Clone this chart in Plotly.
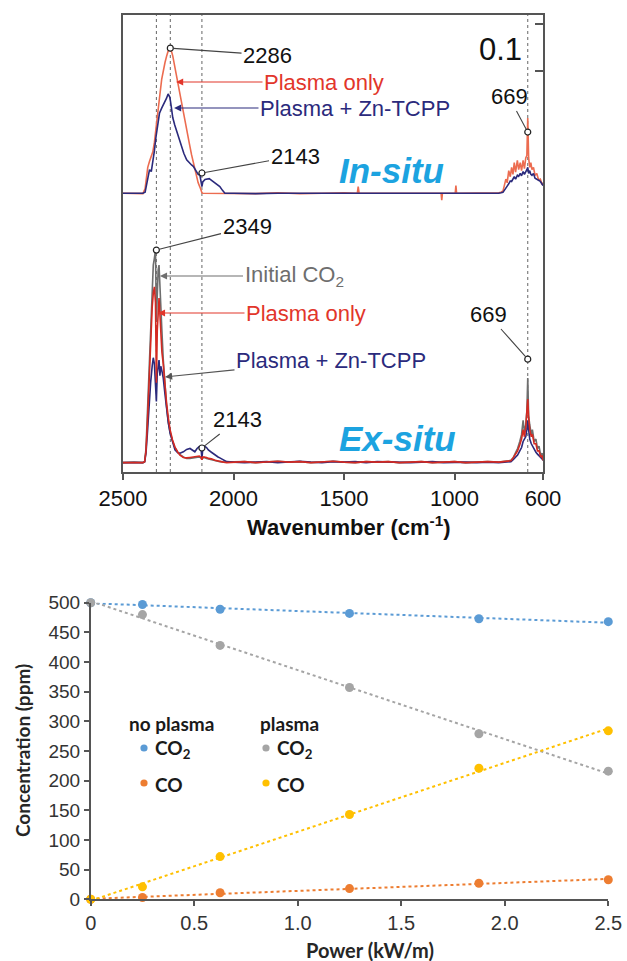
import numpy as np
import plotly.graph_objects as go

W, H = 627, 961

# ---------------- spectra (absorbance) ----------------
IN_WN = [2500, 2450, 2410, 2400, 2395, 2388, 2380, 2372, 2365, 2358,
         2351, 2343, 2335, 2325, 2318, 2310, 2303, 2296, 2288, 2282,
         2275, 2266, 2258, 2250, 2242, 2235, 2225, 2212, 2200, 2190,
         2182, 2170, 2160, 2152, 2147, 2143, 2139, 2129, 2110, 2092,
         2075, 2062, 2050, 2039, 2000, 1900, 1800, 1700, 1600, 1500,
         1440, 1436, 1432, 1300, 1200, 1100, 1061, 1058, 1055, 997,
         994, 991, 900, 850, 800, 790, 781, 775, 768, 762,
         755, 748, 742, 736, 730, 724, 716, 710, 703, 697,
         690, 684, 678, 673, 669, 665, 660, 655, 650, 643,
         636, 628, 620, 612, 605, 600]
IN_PLASMA = [0.020, 0.020, 0.019, 0.030, 0.055, 0.075, 0.088, 0.098, 0.108, 0.128,
             0.160, 0.190, 0.222, 0.262, 0.282, 0.298, 0.311, 0.322, 0.328, 0.324,
             0.312, 0.289, 0.268, 0.248, 0.225, 0.210, 0.188, 0.155, 0.126, 0.102,
             0.086, 0.058, 0.042, 0.033, 0.024, 0.021, 0.020, 0.020, 0.019, 0.020,
             0.020, 0.020, 0.019, 0.020, 0.020, 0.019, 0.021, 0.019, 0.020, 0.021,
             0.020, 0.034, 0.020, 0.020, 0.021, 0.020, 0.020, 0.005, 0.020, 0.020,
             0.036, 0.020, 0.020, 0.021, 0.021, 0.022, 0.025, 0.036, 0.050, 0.042,
             0.068, 0.055, 0.075, 0.060, 0.085, 0.065, 0.090, 0.070, 0.085, 0.068,
             0.090, 0.072, 0.095, 0.100, 0.180, 0.095, 0.075, 0.085, 0.070, 0.075,
             0.058, 0.062, 0.048, 0.050, 0.040, 0.042]
IN_ZN = [0.020, 0.020, 0.020, 0.022, 0.035, 0.058, 0.070, 0.066, 0.084, 0.110,
         0.139, 0.170, 0.190, 0.201, 0.207, 0.214, 0.222, 0.231, 0.224, 0.205,
         0.181, 0.165, 0.153, 0.140, 0.128, 0.119, 0.105, 0.091, 0.084, 0.080,
         0.077, 0.068, 0.060, 0.058, 0.045, 0.034, 0.044, 0.049, 0.051, 0.045,
         0.040, 0.034, 0.026, 0.020, 0.020, 0.019, 0.020, 0.020, 0.019, 0.020,
         0.020, 0.020, 0.020, 0.019, 0.020, 0.020, 0.020, 0.020, 0.020, 0.020,
         0.020, 0.020, 0.020, 0.020, 0.020, 0.021, 0.022, 0.026, 0.030, 0.035,
         0.040, 0.046, 0.045, 0.050, 0.055, 0.050, 0.058, 0.056, 0.062, 0.057,
         0.066, 0.060, 0.068, 0.070, 0.075, 0.062, 0.068, 0.060, 0.058, 0.062,
         0.052, 0.050, 0.047, 0.045, 0.040, 0.036]
IN_SITU_OFFSET = 0.573

EX_WN = [2500, 2450, 2410, 2402, 2396, 2390, 2383, 2375, 2368, 2363,
         2358, 2353, 2349, 2345, 2341, 2337, 2333, 2329, 2324, 2318,
         2310, 2303, 2295, 2287, 2276, 2265, 2252, 2242, 2227, 2212,
         2197, 2185, 2175, 2165, 2155, 2147, 2143, 2139, 2132, 2122,
         2114, 2100, 2084, 2070, 2062, 2045, 2031, 2000, 1950, 1900,
         1850, 1800, 1750, 1700, 1650, 1600, 1550, 1500, 1450, 1400,
         1350, 1300, 1250, 1200, 1150, 1100, 1050, 1000, 950, 900,
         850, 800, 770, 755, 745, 735, 725, 715, 705, 697,
         690, 684, 678, 673, 669, 665, 660, 653, 648, 640,
         632, 625, 618, 610, 604, 600]
EX_INITIAL = [0.020, 0.021, 0.020, 0.022, 0.050, 0.120, 0.220, 0.330, 0.410, 0.440,
              0.455, 0.472, 0.320, 0.390, 0.430, 0.440, 0.405, 0.360, 0.300, 0.240,
              0.180, 0.140, 0.105, 0.085, 0.066, 0.052, 0.042, 0.037, 0.032, 0.029,
              0.029, 0.030, 0.031, 0.032, 0.032, 0.030, 0.026, 0.030, 0.031, 0.029,
              0.028, 0.026, 0.024, 0.023, 0.022, 0.021, 0.021, 0.021, 0.022, 0.020,
              0.021, 0.023, 0.021, 0.022, 0.020, 0.021, 0.023, 0.021, 0.020, 0.022,
              0.021, 0.022, 0.020, 0.021, 0.022, 0.020, 0.021, 0.022, 0.020, 0.021,
              0.022, 0.021, 0.022, 0.024, 0.025, 0.030, 0.040, 0.050, 0.065, 0.080,
              0.110, 0.085, 0.100, 0.130, 0.200, 0.120, 0.100, 0.080, 0.090, 0.065,
              0.070, 0.050, 0.055, 0.035, 0.040, 0.025]
EX_PLASMA = [0.020, 0.020, 0.020, 0.022, 0.045, 0.100, 0.190, 0.280, 0.350, 0.380,
             0.394, 0.360, 0.190, 0.300, 0.360, 0.370, 0.335, 0.295, 0.255, 0.230,
             0.180, 0.147, 0.115, 0.090, 0.068, 0.053, 0.042, 0.036, 0.031, 0.030,
             0.031, 0.032, 0.033, 0.034, 0.034, 0.031, 0.026, 0.032, 0.032, 0.031,
             0.029, 0.028, 0.025, 0.023, 0.022, 0.021, 0.020, 0.021, 0.022, 0.020,
             0.021, 0.023, 0.021, 0.022, 0.020, 0.021, 0.023, 0.021, 0.020, 0.022,
             0.021, 0.022, 0.020, 0.021, 0.022, 0.020, 0.021, 0.022, 0.020, 0.021,
             0.022, 0.021, 0.022, 0.024, 0.024, 0.030, 0.038, 0.045, 0.058, 0.070,
             0.090, 0.075, 0.095, 0.120, 0.155, 0.115, 0.090, 0.075, 0.080, 0.060,
             0.060, 0.045, 0.045, 0.032, 0.035, 0.025]
EX_ZN = [0.020, 0.020, 0.020, 0.022, 0.040, 0.080, 0.140, 0.190, 0.225, 0.243,
         0.230, 0.190, 0.150, 0.210, 0.225, 0.238, 0.205, 0.225, 0.215, 0.200,
         0.165, 0.130, 0.105, 0.083, 0.062, 0.047, 0.041, 0.040, 0.043, 0.048,
         0.050, 0.047, 0.043, 0.050, 0.054, 0.051, 0.028, 0.050, 0.055, 0.052,
         0.047, 0.042, 0.036, 0.032, 0.030, 0.025, 0.022, 0.021, 0.020, 0.021,
         0.022, 0.020, 0.021, 0.023, 0.021, 0.020, 0.022, 0.021, 0.022, 0.020,
         0.022, 0.021, 0.021, 0.020, 0.021, 0.022, 0.020, 0.021, 0.021, 0.020,
         0.021, 0.020, 0.021, 0.022, 0.022, 0.026, 0.030, 0.036, 0.045, 0.052,
         0.065, 0.070, 0.075, 0.090, 0.110, 0.090, 0.070, 0.060, 0.055, 0.050,
         0.042, 0.038, 0.035, 0.030, 0.028, 0.025]

PEAK_LINES = [2349, 2286, 2143, 669]
PEAK_MARKS_WN = [2286, 2143, 669, 2349, 2143, 669]
PEAK_MARKS_A = [0.9015, 0.636, 0.723, 0.472, 0.051, 0.240]
WN_TICKS = [2500, 2000, 1500, 1000, 600]
SCALE_BAR = [0.853, 0.953]

# ---------------- concentration vs power ----------------
POWER = [0, 0.25, 0.625, 1.25, 1.875, 2.5]
CO2_NO_PLASMA = [500, 497, 489, 482, 473, 468]
CO_NO_PLASMA = [0, 3, 11, 18, 27, 33]
CO2_PLASMA = [500, 480, 428, 357, 279, 216]
CO_PLASMA = [0, 21, 72, 143, 221, 284]
POWER_TICKS = [0, 0.5, 1.0, 1.5, 2.0, 2.5]
POWER_TICK_TEXT = ["0", "0.5", "1.0", "1.5", "2.0", "2.5"]
CONC_TICKS = [0, 50, 100, 150, 200, 250, 300, 350, 400, 450, 500]

for a in (IN_PLASMA, IN_ZN):
    assert len(a) == len(IN_WN)
for a in (EX_INITIAL, EX_PLASMA, EX_ZN):
    assert len(a) == len(EX_WN)

# ---------------- styling ----------------
ARIAL = "Arial, Liberation Sans, sans-serif"
CAL = "Lato, Open Sans, sans-serif"
C_IN_PL = "#EC6C50"
C_RED = "#D42A22"
C_RED_TXT = "#E2362B"
C_NAVY = "#2B2A7C"
C_GREY = "#6E6E6E"
C_SKY = "#1CA3E0"
AX = "#555555"

# pixel layout of panels
T_L, T_R, T_T, T_B = 123, 543, 15, 472
B_L, B_R, B_T, B_B = 90.7, 608.3, 602.7, 899.3
Y_TOP_MAX = 0.972


def px(x):
    return x / W


def py(y):
    return 1 - y / H


def top_xpix(wn):
    return T_L + (2500 - wn) * (T_R - T_L) / 1900


def top_ypix(a):
    return T_B - a * (T_B - T_T) / Y_TOP_MAX


def top_a(ypix):
    return (T_B - ypix) * Y_TOP_MAX / (T_B - T_T)


fig = go.Figure()

in_pl = np.array(IN_PLASMA) + IN_SITU_OFFSET
in_zn = np.array(IN_ZN) + IN_SITU_OFFSET

fig.add_trace(go.Scatter(x=IN_WN, y=in_pl, mode="lines", line=dict(color=C_IN_PL, width=1.6),
                         xaxis="x", yaxis="y"))
fig.add_trace(go.Scatter(x=IN_WN, y=in_zn, mode="lines", line=dict(color=C_NAVY, width=1.6),
                         xaxis="x", yaxis="y"))
fig.add_trace(go.Scatter(x=EX_WN, y=EX_INITIAL, mode="lines", line=dict(color=C_GREY, width=1.6),
                         xaxis="x", yaxis="y"))
fig.add_trace(go.Scatter(x=EX_WN, y=EX_ZN, mode="lines", line=dict(color=C_NAVY, width=1.6),
                         xaxis="x", yaxis="y"))
fig.add_trace(go.Scatter(x=EX_WN, y=EX_PLASMA, mode="lines", line=dict(color=C_RED, width=1.6),
                         xaxis="x", yaxis="y"))
fig.add_trace(go.Scatter(x=PEAK_MARKS_WN, y=PEAK_MARKS_A, mode="markers", cliponaxis=False,
                         marker=dict(symbol="circle", size=6, color="white",
                                     line=dict(color="#222", width=1.2)),
                         xaxis="x", yaxis="y"))
# scale-bar axis carrier (invisible)
fig.add_trace(go.Scatter(x=[None], y=[None], xaxis="x", yaxis="y3", mode="lines"))

# bottom panel
series = [
    (CO2_NO_PLASMA, "#5B9BD5"),
    (CO2_PLASMA, "#A5A5A5"),
    (CO_NO_PLASMA, "#ED7D31"),
    (CO_PLASMA, "#FFC000"),
]
xfit = np.array([POWER[0], POWER[-1]])
for vals, col in series:
    k, b = np.polyfit(POWER, vals, 1)
    fig.add_trace(go.Scatter(x=xfit, y=k * xfit + b, mode="lines", cliponaxis=False,
                             line=dict(color=col, width=2, dash="dot"),
                             xaxis="x2", yaxis="y2"))
for vals, col in series:
    fig.add_trace(go.Scatter(x=POWER, y=vals, mode="markers", cliponaxis=False,
                             marker=dict(color=col, size=9),
                             xaxis="x2", yaxis="y2"))

shapes = []
for wn in PEAK_LINES:
    shapes.append(dict(type="line", xref="x", yref="y domain", x0=wn, x1=wn, y0=0, y1=1,
                       line=dict(color="#666", width=1, dash="3px,3px"), layer="below"))

annotations = []


def arrow_note(text, wn, a, tx, ty, color, linecolor, head=0, standoff=0):
    hx, hy = top_xpix(wn), top_ypix(a)
    annotations.append(dict(
        text=text, x=wn, y=a, xref="x", yref="y", showarrow=True,
        ax=tx - hx, ay=ty - hy, axref="pixel", ayref="pixel",
        arrowhead=head, arrowsize=1.3, arrowwidth=1.1, arrowcolor=linecolor,
        standoff=standoff, font=dict(family=ARIAL, size=22, color=color)))


def text_note(text, tx, ty, size, color, family=ARIAL, xanchor="center", angle=0):
    annotations.append(dict(text=text, x=px(tx), y=py(ty), xref="paper", yref="paper",
                            showarrow=False, xanchor=xanchor, yanchor="middle",
                            textangle=angle,
                            font=dict(family=family, size=size, color=color)))


arrow_note("2286", 2286, 0.9015, 267.5, 55, "#111", "#444", 0, 3)
arrow_note("Plasma only", 2260, top_a(82), 324, 82, C_RED_TXT, C_RED_TXT, 2, 0)
arrow_note("Plasma + Zn-TCPP", 2269, top_a(108), 355, 108, C_NAVY, C_NAVY, 2, 0)
arrow_note("2143", 2143, 0.636, 295, 156, "#111", "#444", 0, 3)
arrow_note("669", 669, 0.723, 509, 97, "#111", "#444", 0, 3)
arrow_note("2349", 2349, 0.472, 247, 227, "#111", "#444", 0, 3)
arrow_note("Initial CO<sub>2</sub>", 2333, top_a(276), 294, 276, "#6E6E6E", "#6E6E6E", 2, 0)
arrow_note("Plasma only", 2342, top_a(313), 306, 313, C_RED_TXT, C_RED_TXT, 2, 0)
arrow_note("Plasma + Zn-TCPP", 2310, top_a(377), 331, 360, C_NAVY, "#555", 2, 0)
arrow_note("669", 669, 0.240, 488.5, 315, "#111", "#444", 0, 3)
arrow_note("2143", 2143, 0.051, 237.5, 420, "#111", "#444", 0, 3)

text_note("0.1", 500, 50, 31, "#111")
text_note("<b><i>In-situ</i></b>", 391, 170, 35, C_SKY)
text_note("<b><i>Ex-situ</i></b>", 397, 438, 35, C_SKY)
text_note("<b>Wavenumber (cm<sup>-1</sup>)</b>", 349, 526, 22, "#111")

# bottom panel titles and legend
text_note("<b>Concentration (ppm)</b>", 22, 751, 19, "#262626", CAL, angle=-90)
text_note("<b>Power (kW/m)</b>", 370, 950, 20, "#262626", CAL)
text_note("<b>no plasma</b>", 171, 723, 19, "#1a1a1a", CAL)
text_note("<b>plasma</b>", 289, 723, 19, "#1a1a1a", CAL)
legend_items = [(144, 748, "#5B9BD5", "<b>CO<sub>2</sub></b>"),
                (144, 783, "#ED7D31", "<b>CO</b>"),
                (266, 748, "#A5A5A5", "<b>CO<sub>2</sub></b>"),
                (266, 783, "#FFC000", "<b>CO</b>")]
for lx, ly, col, lab in legend_items:
    r = 3.6
    shapes.append(dict(type="circle", xref="paper", yref="paper",
                       x0=px(lx - r), x1=px(lx + r), y0=py(ly + r), y1=py(ly - r),
                       fillcolor=col, line=dict(width=0)))
    text_note(lab, lx + 9, ly + 1, 19, "#1a1a1a", CAL, xanchor="left")

fig.update_layout(
    template="none",
    width=W, height=H, autosize=False,
    margin=dict(l=0, r=0, t=0, b=0, pad=0),
    paper_bgcolor="white", plot_bgcolor="white",
    showlegend=False,
    shapes=shapes, annotations=annotations,
    xaxis=dict(domain=[px(T_L), px(T_R)], anchor="y", range=[2500, 600], automargin=False,
               tickvals=WN_TICKS, ticks="outside", ticklen=6, tickwidth=1.5, tickcolor=AX,
               showline=True, linecolor=AX, linewidth=1.5, mirror=True,
               showgrid=False, zeroline=False,
               tickfont=dict(family=ARIAL, size=22, color="#111")),
    yaxis=dict(domain=[py(T_B), py(T_T)], anchor="x", range=[0, Y_TOP_MAX], automargin=False,
               showline=True, linecolor=AX, linewidth=1.5, mirror=True,
               ticks="", showticklabels=False, showgrid=False, zeroline=False),
    yaxis3=dict(overlaying="y", anchor="x", side="right", range=[0, Y_TOP_MAX], automargin=False,
                tickvals=SCALE_BAR, ticks="inside", ticklen=8, tickwidth=1.5, tickcolor=AX,
                showticklabels=False, showline=False, showgrid=False, zeroline=False),
    xaxis2=dict(domain=[px(B_L), px(B_R)], anchor="y2", range=[0, 2.5], automargin=False,
                tickvals=POWER_TICKS, ticktext=POWER_TICK_TEXT,
                ticks="outside", ticklen=5, tickwidth=1.5, tickcolor=AX,
                showline=True, linecolor=AX, linewidth=1.5,
                showgrid=False, zeroline=False,
                tickfont=dict(family=ARIAL, size=20, color="#333")),
    yaxis2=dict(domain=[py(B_B), py(B_T)], anchor="x2", range=[0, 500], automargin=False,
                tickvals=CONC_TICKS, ticks="outside", ticklen=5, tickwidth=1.5, tickcolor=AX,
                showline=True, linecolor=AX, linewidth=1.5,
                showgrid=False, zeroline=False,
                tickfont=dict(family=ARIAL, size=19, color="#333")),
)

fig.write_html("out.html")
